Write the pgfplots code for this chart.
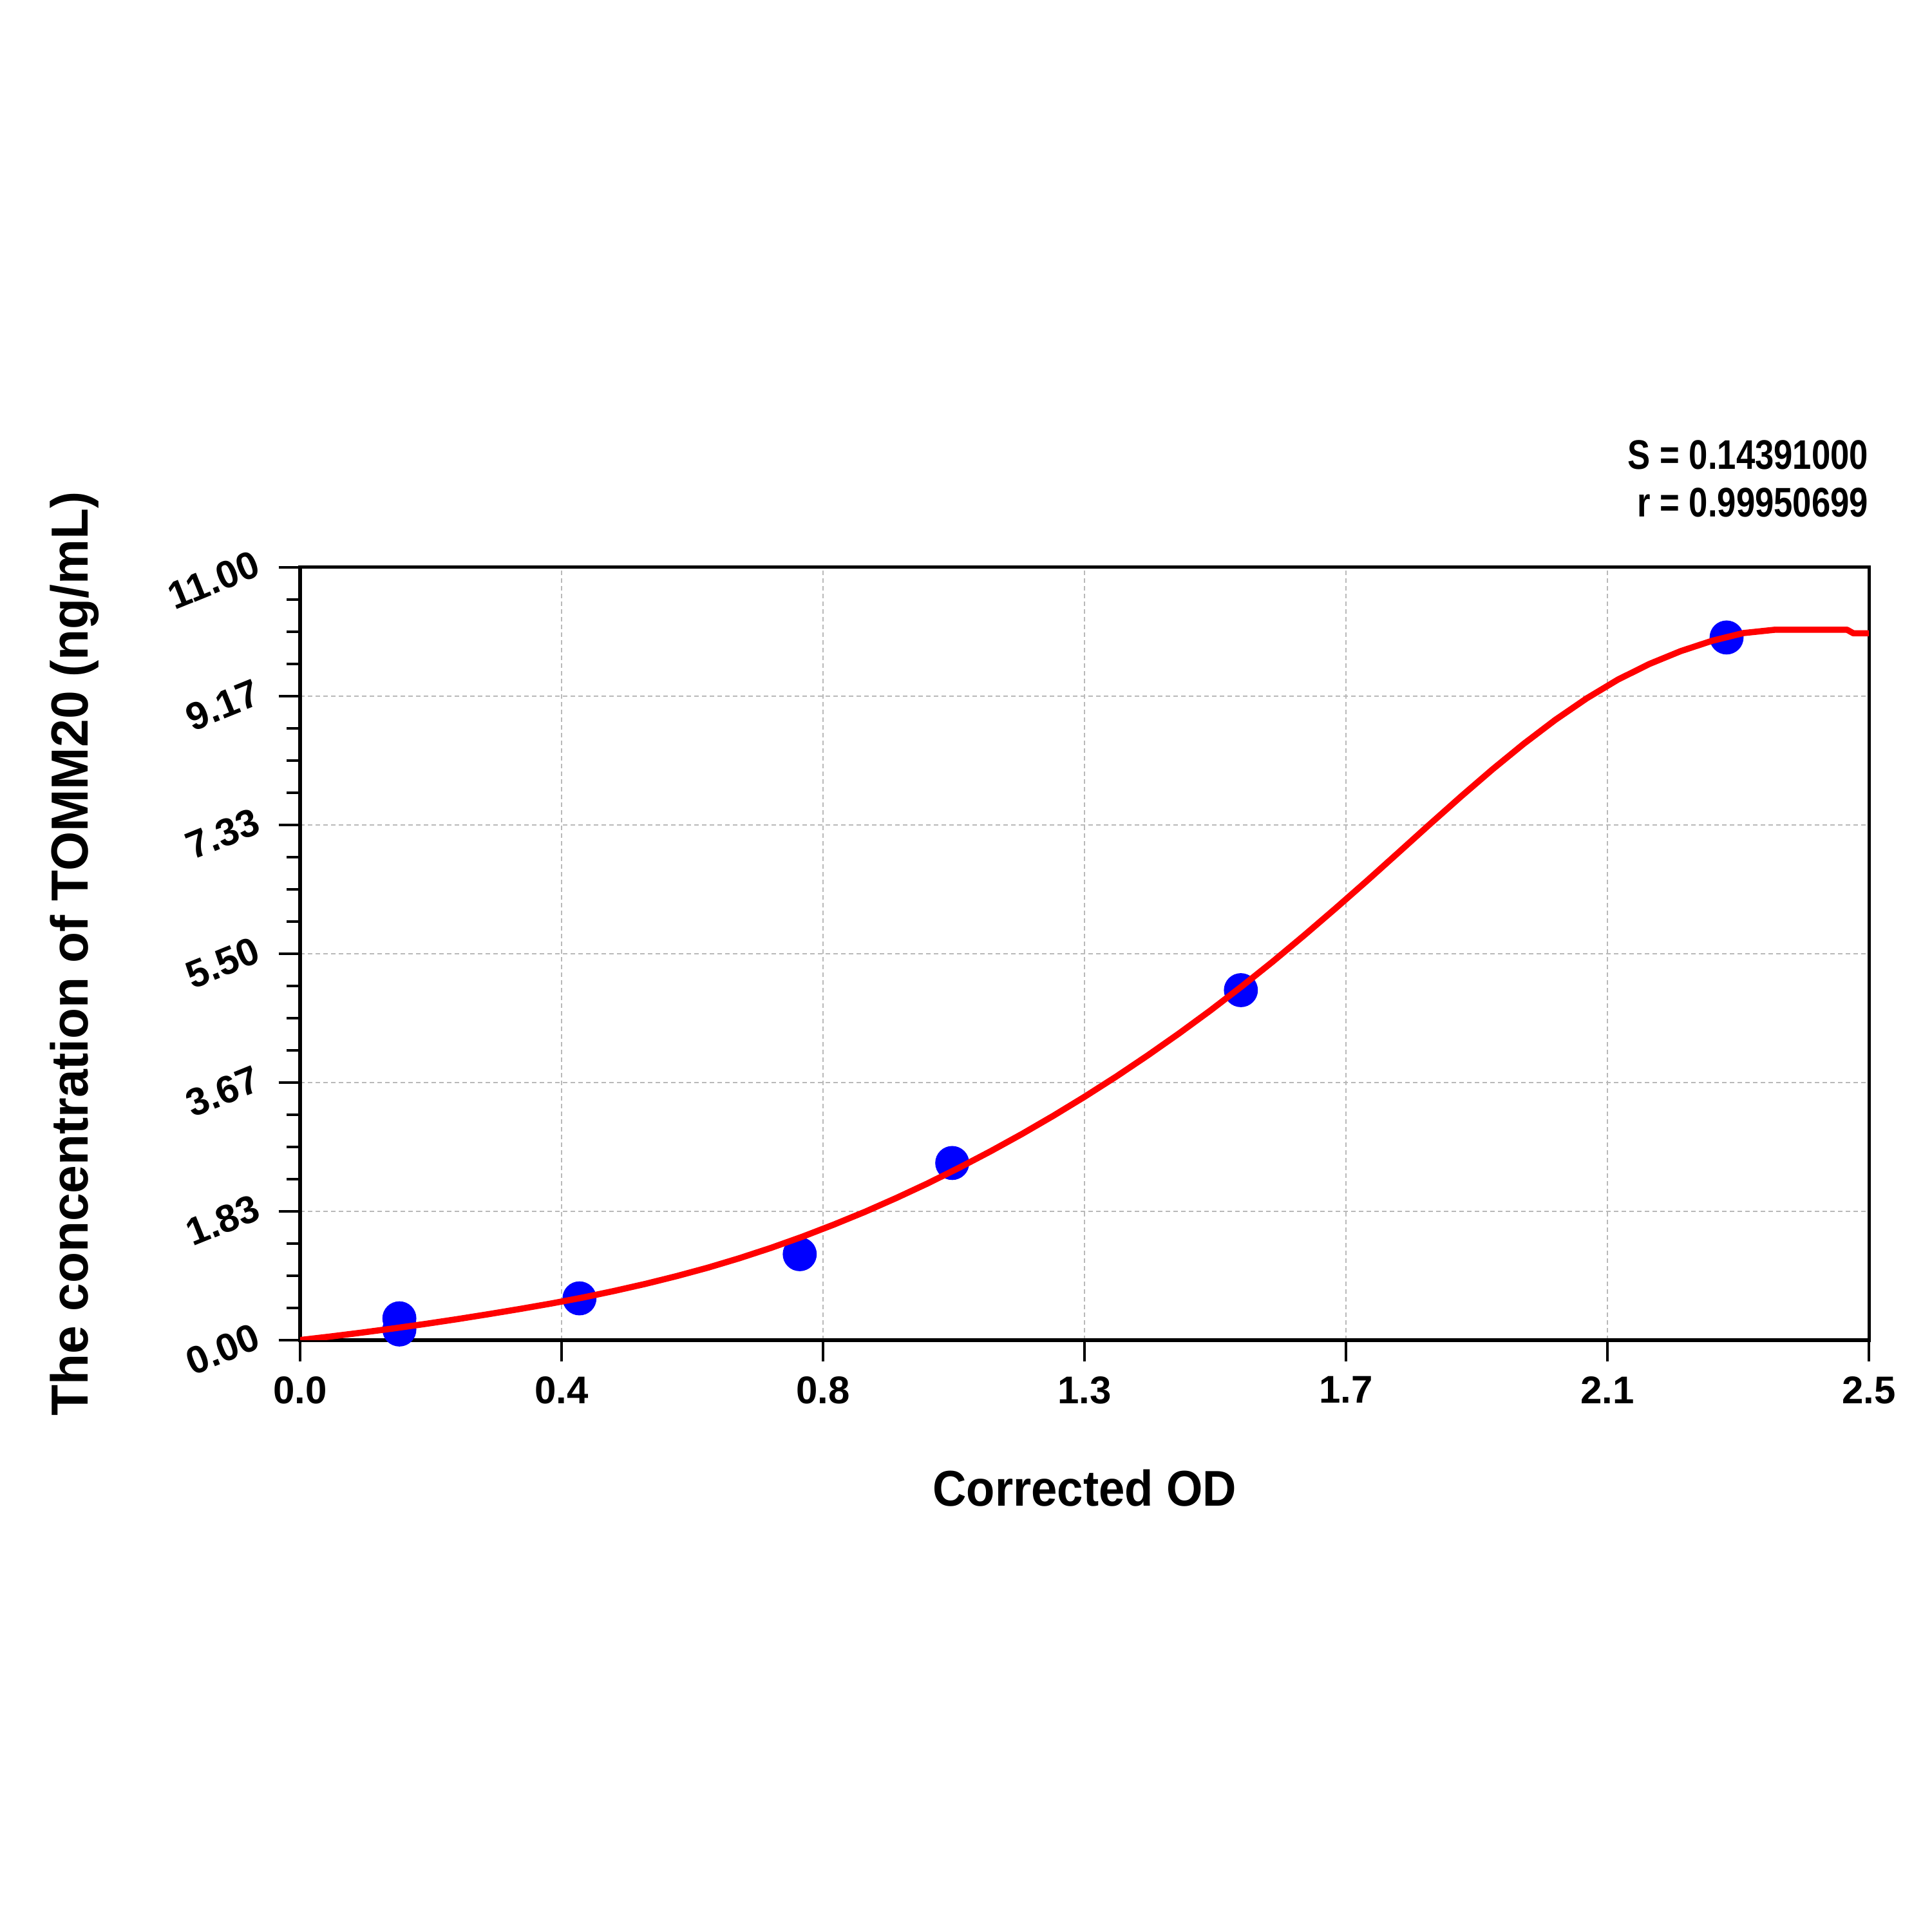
\documentclass[border=0pt]{standalone}
\usepackage{fontspec}
\setmainfont{Liberation Sans}
\newfontfamily\labfont{Liberation Sans}[FakeStretch=0.93]
\newfontfamily\ylabfont{Liberation Sans}[FakeStretch=0.97]
\newfontfamily\condfont{Liberation Sans}[FakeStretch=0.82]
\usepackage{pgfplots}
\pgfplotsset{compat=1.18}

\pgfplotstableread{
x y
0.158 0.309
0.158 0.150
0.445 0.593
0.796 1.222
1.039 2.52
1.499 4.98
2.273 10.00
}\points

\pgfplotstableread{
x y
0.00 0.000
0.05 0.052
0.10 0.108
0.15 0.167
0.20 0.230
0.25 0.297
0.30 0.368
0.35 0.442
0.40 0.520
0.45 0.604
0.50 0.698
0.55 0.799
0.60 0.910
0.65 1.031
0.70 1.165
0.75 1.311
0.80 1.470
0.85 1.642
0.90 1.825
0.95 2.022
1.00 2.230
1.05 2.452
1.10 2.686
1.15 2.932
1.20 3.191
1.25 3.463
1.30 3.748
1.35 4.048
1.40 4.361
1.45 4.688
1.50 5.031
1.55 5.388
1.60 5.761
1.65 6.145
1.70 6.537
1.75 6.938
1.80 7.341
1.85 7.738
1.90 8.123
1.95 8.488
2.00 8.827
2.05 9.133
2.10 9.401
2.15 9.623
2.20 9.806
2.25 9.953
2.30 10.063
2.35 10.110
2.465 10.110
2.475 10.060
2.500 10.060
}\curve

\begin{document}
\begin{tikzpicture}
\begin{axis}[
  at={(0,0)}, anchor=south west,
  scale only axis, width=406pt, height=200pt,
  xmin=0, xmax=2.5, ymin=0, ymax=11,
  clip mode=individual,
  xtick={0,0.416667,0.833333,1.25,1.666667,2.083333,2.5},
  xticklabels={0.0,0.4,0.8,1.3,1.7,2.1,2.5},
  ytick={0,1.833333,3.666667,5.5,7.333333,9.166667,11},
  yticklabels={0.00,1.83,3.67,5.50,7.33,9.17,11.00},
  minor tick num=3,
  tick align=outside,
  tick pos=left,
  major tick length=5.6pt, minor tick length=3.5pt,
  every tick/.style={black, line width=0.6pt},
  axis line style={black, line width=0.9pt},
  grid=major,
  major grid style={gray!55, line width=0.3pt, dash pattern=on 1.2pt off 0.8pt},
  ticklabel style={font=\fontsize{10}{12}\selectfont\bfseries},
  xticklabel style={yshift=-0.3pt},
  yticklabel style={xshift=-2.2pt, yshift=2.6pt, rotate=22, anchor=east},
  xlabel={Corrected OD},
  ylabel={The concentration of TOMM20 (ng/mL)},
  xlabel style={at={(axis description cs:0.5,-0.2145)}, anchor=base, font=\labfont\fontsize{13}{15}\selectfont\bfseries},
  ylabel style={at={(axis description cs:-0.1355,0.5)}, anchor=base, font=\ylabfont\fontsize{13.5}{15}\selectfont\bfseries},
]
\addplot[only marks, mark=*, mark size=4.2pt, color=blue, mark options={draw=blue, fill=blue}] table[x=x, y=y] {\points};
\addplot[red, line width=1.6pt, no marks, line join=round] table[x=x, y=y] {\curve};
\node[anchor=base east, inner sep=0pt, font=\condfont\fontsize{10.7}{12}\selectfont\bfseries] at (rel axis cs:1,1.1265) {S = 0.14391000};
\node[anchor=base east, inner sep=0pt, font=\condfont\fontsize{10.7}{12}\selectfont\bfseries] at (rel axis cs:1,1.0655) {r = 0.99950699};
\end{axis}
\pgfresetboundingbox
\path (-77.7pt,-153.2pt) rectangle (422.3pt,346.8pt);
\end{tikzpicture}
\end{document}
